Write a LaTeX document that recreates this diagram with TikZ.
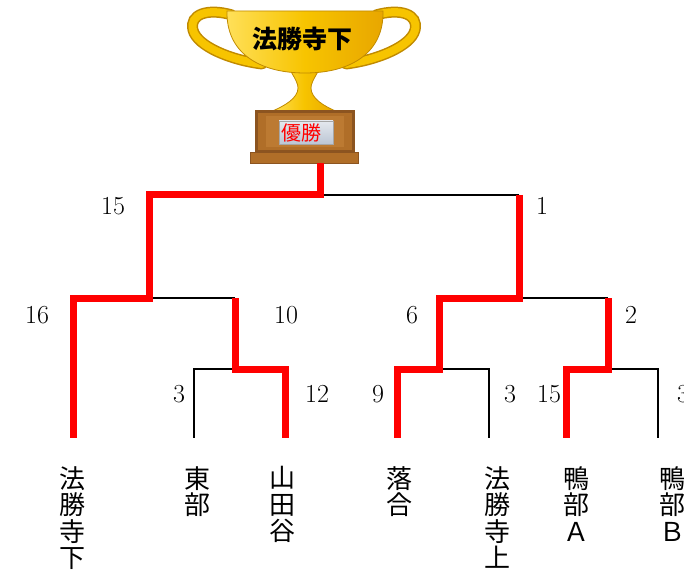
\documentclass[tikz,border=0pt]{standalone}
\usepackage{fontspec}
\newfontfamily\jp{Noto Sans CJK JP}
\definecolor{goldM}{HTML}{F7C400}
\definecolor{goldL}{HTML}{FFE05A}
\definecolor{goldR}{HTML}{E8A600}
\definecolor{goldD}{HTML}{C08A00}
\definecolor{brownM}{HTML}{B06E28}
\definecolor{brownD}{HTML}{8C5420}
\definecolor{brownL}{HTML}{BC7A32}
\definecolor{plateT}{HTML}{E4E8EE}
\definecolor{plateB}{HTML}{BCC6D4}
\begin{document}
\begin{tikzpicture}[x=1pt,y=-1pt,
  win/.style={red, line width=7pt, line join=miter, line cap=butt},
  loss/.style={black, line width=1.3pt},
  score/.style={font=\fontsize{26}{26}\selectfont, inner sep=0pt},
  team/.style={font=\jp\fontsize{26}{26.5}\selectfont, align=center, inner sep=0pt, anchor=north},
  goldfill/.style={left color=goldL, right color=goldR, middle color=goldM, draw=goldD, line width=0.8pt},
]
\useasboundingbox (0,0) rectangle (684,577);

% ---- trophy ----
% handles
\draw[goldD, line width=11pt, line cap=round]
  (232,15) .. controls (208,8) and (189,14) .. (193,30) .. controls (197,46) and (230,60) .. (262,64);
\draw[goldM, line width=8pt, line cap=round]
  (232,15) .. controls (208,8) and (189,14) .. (193,30) .. controls (197,46) and (230,60) .. (262,64);
\draw[goldD, line width=11pt, line cap=round]
  (376,15) .. controls (400,8) and (419,14) .. (415,30) .. controls (411,46) and (378,60) .. (346,64);
\draw[goldM, line width=8pt, line cap=round]
  (376,15) .. controls (400,8) and (419,14) .. (415,30) .. controls (411,46) and (378,60) .. (346,64);
% stem
\path[goldfill] (290,70) .. controls (296,80) and (298,84) .. (298,88)
  .. controls (298,98) and (285,106) .. (270,112) -- (338,112)
  .. controls (323,106) and (311,98) .. (311,88)
  .. controls (311,84) and (313,80) .. (319,70) -- cycle;
% bowl
\path[goldfill] (227,11) -- (383,11) .. controls (384,52) and (352,73) .. (305,73)
  .. controls (258,73) and (226,52) .. (227,11) -- cycle;
\node[font=\jp\bfseries\fontsize{25}{25}\selectfont, inner sep=0pt] (cupname) at (302,39) {法勝寺下};
% base
\fill[brownD] (255,110) rectangle (355,153);
\fill[brownM] (258,113) rectangle (352,150);
\fill[brownL] (266,116) rectangle (344,147);
\path[draw=brownD, fill=brownM, line width=0.8pt] (250,152) rectangle (358,163);
\path[top color=plateT, bottom color=plateB, draw=gray!70, line width=0.6pt] (279,121) rectangle (333,144);
\node[font=\jp\fontsize{20}{20}\selectfont, text=red, inner sep=0pt] (plate) at (301,133) {優勝};

% ---- bracket junctions ----
\coordinate (top) at (320,163);
\coordinate (f) at (320,195);
\coordinate (fL) at (149,195);
\coordinate (fR) at (519,195);
\coordinate (sL) at (149,298);
\coordinate (sLa) at (73,298);
\coordinate (sLb) at (235,298);
\coordinate (sR) at (519,298);
\coordinate (sRa) at (439,298);
\coordinate (sRb) at (608,298);
\coordinate (qA) at (235,369);
\coordinate (qAa) at (194,369);
\coordinate (qAb) at (285,369);
\coordinate (qB) at (439,369);
\coordinate (qBa) at (397,369);
\coordinate (qBb) at (489,369);
\coordinate (qC) at (608,369);
\coordinate (qCa) at (566,369);
\coordinate (qCb) at (658,369);
\coordinate (e1) at (73,438);
\coordinate (e2) at (194,438);
\coordinate (e3) at (285,438);
\coordinate (e4) at (397,438);
\coordinate (e5) at (489,438);
\coordinate (e6) at (566,438);
\coordinate (e7) at (658,438);

% losing branches
\draw[loss] (f) -- (fR);
\draw[loss] (sL) -- (sLb);
\draw[loss] (sR) -- (sRb);
\draw[loss] (qA) -- (qAa) -- (e2);
\draw[loss] (qB) -- (qBb) -- (e5);
\draw[loss] (qC) -- (qCb) -- (e7);

% winning branches
\draw[win] (top) -- (f) -- (fL) -- (sL) -- (sLa) -- (e1);
\draw[win] (fR) -- (sR) -- (sRa) -- (qB) -- (qBa) -- (e4);
\draw[win] (sLb) -- (qA) -- (qAb) -- (e3);
\draw[win] (sRb) -- (qC) -- (qCa) -- (e6);

% scores
\node[score] (s15a) at (113,206) {15};
\node[score] (s1) at (542,206) {1};
\node[score] (s16) at (37,315) {16};
\node[score] (s10) at (286,315) {10};
\node[score] (s6) at (412,315) {6};
\node[score] (s2) at (631,315) {2};
\node[score] (s3a) at (179,394) {3};
\node[score] (s12) at (317,394) {12};
\node[score] (s9) at (378,394) {9};
\node[score] (s3b) at (510,394) {3};
\node[score] (s15b) at (549,394) {15};
\node[score] (s3c) at (683,394) {3};

% teams
\node[team] (t1) at (72,466) {法\\勝\\寺\\下};
\node[team] (t2) at (197,466) {東\\部};
\node[team] (t3) at (282,466) {山\\田\\谷};
\node[team] (t4) at (399,466) {落\\合};
\node[team] (t5) at (497,466) {法\\勝\\寺\\上};
\node[team] (t6) at (576,466) {鴨\\部\\Ａ};
\node[team] (t7) at (672,466) {鴨\\部\\Ｂ};
\end{tikzpicture}
\end{document}
